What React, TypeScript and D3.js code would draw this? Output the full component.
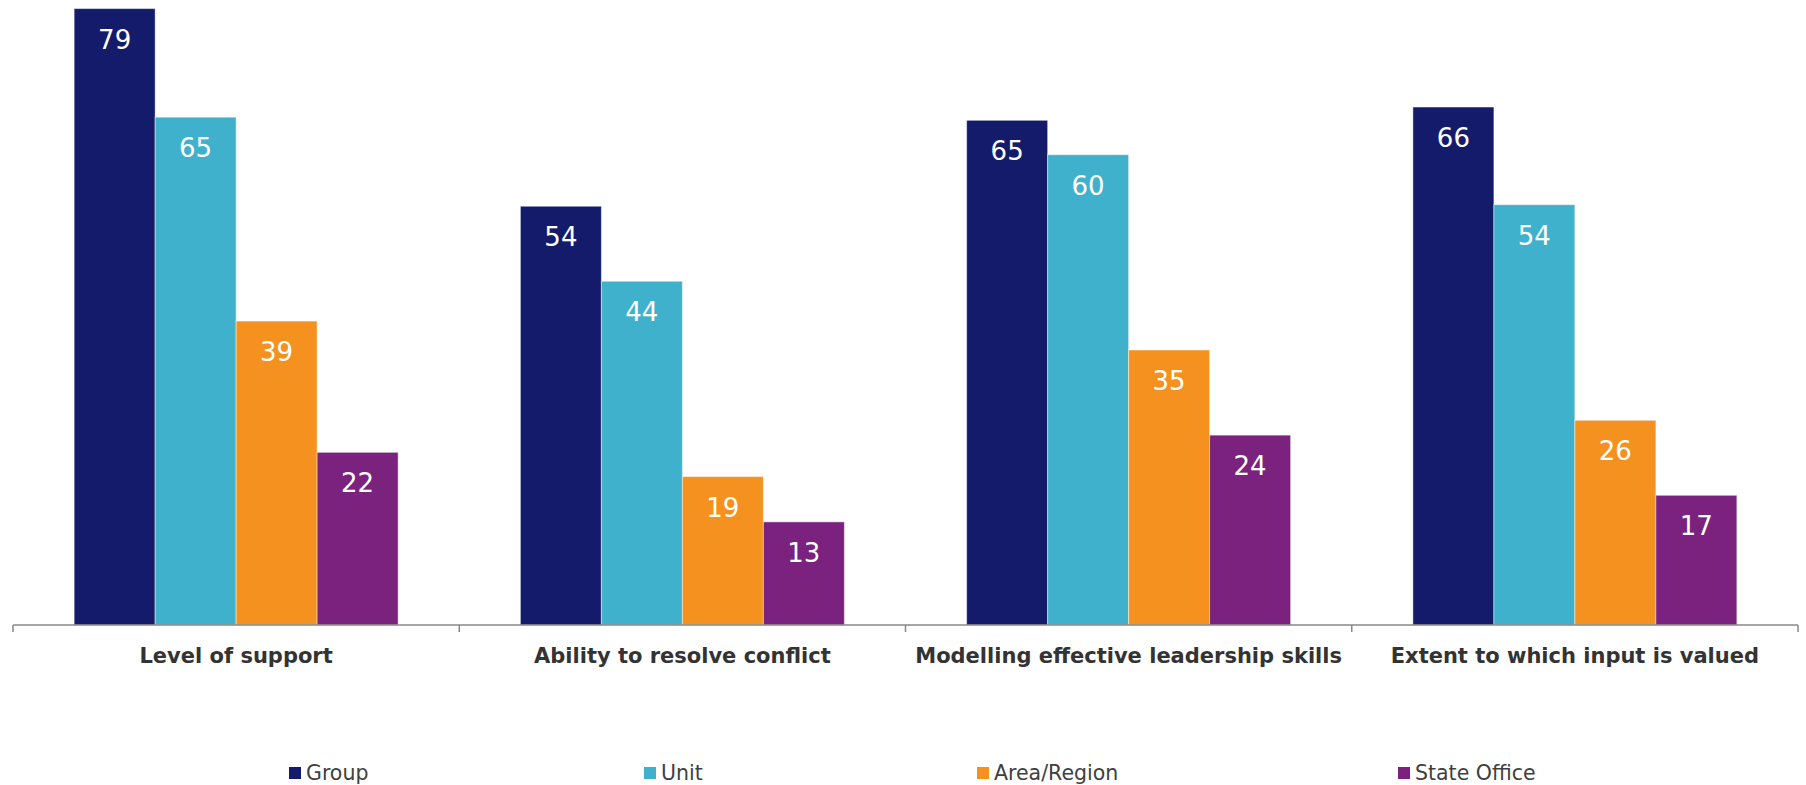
import React from "react";
import * as d3 from "d3";

const categories = [
  "Level of support",
  "Ability to resolve conflict",
  "Modelling effective leadership skills",
  "Extent to which input is valued",
];
const seriesNames = ["Group", "Unit", "Area/Region", "State Office"];
const groupValues = [78.9, 53.6, 64.6, 66.3];
const unitValues = [65.0, 44.0, 60.2, 53.8];
const areaValues = [38.9, 19.0, 35.2, 26.2];
const stateValues = [22.1, 13.2, 24.3, 16.6];
const seriesColors = ["#141B6A", "#40B1CD", "#F5921F", "#7A227D"];

const allSeries = [groupValues, unitValues, areaValues, stateValues];

export default function App() {
  const W = 1806;
  const H = 785;
  const left = 13;
  const right = 1798;
  const baseY = 625;
  const font = "Verdana, 'DejaVu Sans', sans-serif";
  const fmt = d3.format(".0f");

  const x0 = d3.scaleBand<string>().domain(categories).range([left, right]).paddingInner(0).paddingOuter(0);
  const x1 = d3
    .scaleBand<string>()
    .domain(seriesNames)
    .range([0, x0.bandwidth()])
    .paddingInner(0)
    .paddingOuter(0.755);
  const y = d3.scaleLinear().domain([0, 80]).range([baseY, 0]);

  const tickXs = [...categories.map((c) => x0(c) as number), right];
  const legendX = [289, 644, 977, 1398];

  return (
    <svg
      width={W}
      height={H}
      style={{ position: "fixed", left: 0, top: 0, display: "block", background: "#fff" }}
    >
      {categories.map((c, ci) => (
        <g key={c} transform={`translate(${x0(c)},0)`}>
          {seriesNames.map((s, si) => {
            const v = allSeries[si][ci];
            const bx = x1(s) as number;
            const bw = x1.bandwidth();
            return (
              <g key={s}>
                <rect
                  x={bx}
                  y={y(v)}
                  width={bw}
                  height={baseY - y(v)}
                  fill={seriesColors[si]}
                  stroke="#ffffff"
                  strokeOpacity={0.45}
                  strokeWidth={1}
                />
                <text
                  x={bx + bw / 2}
                  y={y(v) + 40}
                  textAnchor="middle"
                  fill="#ffffff"
                  fontFamily={font}
                  fontSize={26}
                >
                  {fmt(v)}
                </text>
              </g>
            );
          })}
          <text
            x={x0.bandwidth() / 2}
            y={663}
            textAnchor="middle"
            fill="#333333"
            fontFamily={font}
            fontWeight="bold"
            fontSize={21}
          >
            {c}
          </text>
        </g>
      ))}
      <line x1={left} x2={right} y1={baseY} y2={baseY} stroke="#898989" strokeWidth={1.5} />
      {tickXs.map((tx, i) => (
        <line key={i} x1={tx} x2={tx} y1={baseY} y2={632} stroke="#898989" strokeWidth={1.5} />
      ))}
      {seriesNames.map((s, si) => (
        <g key={s} transform={`translate(${legendX[si]},0)`}>
          <rect x={0} y={767} width={12} height={12} fill={seriesColors[si]} />
          <text x={17} y={780} fill="#404040" fontFamily={font} fontSize={20.5}>
            {s}
          </text>
        </g>
      ))}
    </svg>
  );
}
